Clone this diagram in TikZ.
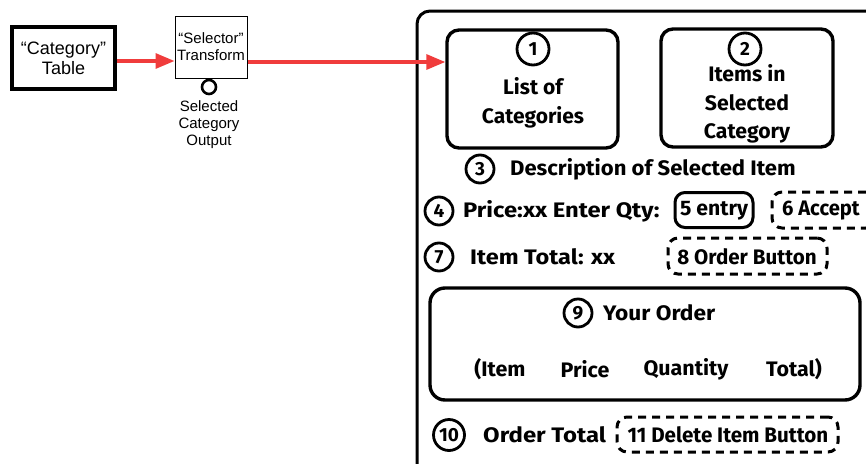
\documentclass[tikz,border=0pt]{standalone}
\usepackage{fontspec}
\setmainfont{Liberation Sans}
\newfontfamily\hand{Fira Sans}
\usetikzlibrary{arrows.meta}
\definecolor{flowred}{HTML}{F03C3C}
\tikzset{
  tblbox/.style={draw, line width=3.3pt, minimum width=103pt, minimum height=62pt, inner sep=0pt, align=center, font=\fontsize{18}{20}\selectfont},
  xfbox/.style={draw, line width=1pt, minimum width=72pt, minimum height=62pt, inner sep=0pt, align=center, font=\fontsize{15}{17}\selectfont},
  port/.style={draw, line width=2.6pt, circle, minimum size=14pt, inner sep=0pt},
  flow/.style={draw=flowred, line width=3.2pt, -{Triangle[length=19pt,width=15pt]}, color=flowred},
  panel/.style={draw, line width=3pt, rounded corners=13pt},
  cardbox/.style={draw, line width=3.4pt, rounded corners=12pt, inner sep=0pt, align=center},
  num/.style={draw, circle, line width=2.8pt, minimum size=28pt, inner sep=0pt, font=\hand\bfseries\fontsize{19}{19}\selectfont},
  lbl/.style={inner sep=0pt, font=\hand\bfseries\addfontfeatures{FakeStretch=#1}\fontsize{21}{28.5}\selectfont},
  lbl/.default=1.02,
  entrybox/.style={draw, line width=3pt, rounded corners=10pt, inner sep=0pt},
  btnbox/.style={draw, line width=3pt, dash pattern=on 8pt off 6pt, rounded corners=10pt, inner sep=0pt},
}
\begin{document}
\begin{tikzpicture}[x=1pt, y=-1pt]
\useasboundingbox (0,0) rectangle (866,463);

% data flow on the left
\node[tblbox] (cat) at (63.5,58) {“Category”\\Table};
\node[xfbox] (sel) at (211,47) {“Selector”\\Transform};
\node[port] (out) at (209,87) {};
\node[align=center, inner sep=0pt, font=\fontsize{15}{17}\selectfont, anchor=north] (outlbl) at (209,100) {Selected\\Category\\Output};

% screen panel
\draw[panel] (417,11) rectangle (885,490);

% category list and item list
\node[cardbox, minimum width=171pt, minimum height=118pt] (list) at (532.5,89) {};
\node[num, minimum size=32pt] (n1) at (533,49) {1};
\node[lbl=1.0, align=center] (listtxt) at (533,103) {List of\\Categories};

\node[cardbox, minimum width=172pt, minimum height=118pt] (items) at (747,88) {};
\node[num, minimum size=32pt] (n2) at (745,49) {2};
\node[lbl=1.01, align=center] (itemstxt) at (747,104) {Items in\\Selected\\Category};

% item description
\node[num] (n3) at (480,169) {3};
\node[lbl=1.05, anchor=west] (desc) at (510,169) {Description of Selected Item};

% price and quantity row
\node[num] (n4) at (439,211) {4};
\node[lbl=1.13, anchor=west] (price) at (463,211) {Price:xx Enter Qty:};
\node[entrybox, minimum width=78pt, minimum height=35pt] (entry) at (714,210) {};
\node[lbl=1.01] (entrytxt) at (714,211) {5 entry};
\node[btnbox, minimum width=104pt, minimum height=36pt] (accept) at (824,210) {};
\node[lbl=0.96, anchor=west] (accepttxt) at (782,211) {6 Accept};

% item total row
\node[num] (n7) at (439,257) {7};
\node[lbl=1.12, anchor=west] (itot) at (470,257) {Item Total: xx};
\node[btnbox, minimum width=159pt, minimum height=36pt] (orderbtn) at (747.5,256) {};
\node[lbl=0.98] (orderbtntxt) at (747,257) {8 Order Button};

% order table
\node[cardbox, minimum width=430pt, minimum height=112pt, rounded corners=15pt] (order) at (645,344) {};
\node[num] (n9) at (578,313) {9};
\node[lbl=1.08, anchor=west] (ordertxt) at (603,313) {Your Order};
\node[lbl] (colitem) at (500,369) {(Item};
\node[lbl] (colprice) at (585,369) {Price};
\node[lbl] (colqty) at (686,369) {Quantity};
\node[lbl] (coltot) at (794,369) {Total)};

% order total row
\node[num, minimum size=31pt] (n10) at (449,435) {10};
\node[lbl=1.14, anchor=west] (otot) at (483,435) {Order Total};
\node[btnbox, minimum width=221pt, minimum height=35pt] (delbtn) at (727.5,434.5) {};
\node[lbl=0.98] (delbtntxt) at (728,435) {11 Delete Item Button};

% connectors
\draw[flow] ([yshift=-3pt]cat.east) -- ([yshift=-3pt]cat.east -| sel.west);
\draw[flow] ([yshift=-15pt]sel.east) -- ([yshift=-15pt]sel.east -| list.west);
\end{tikzpicture}
\end{document}
